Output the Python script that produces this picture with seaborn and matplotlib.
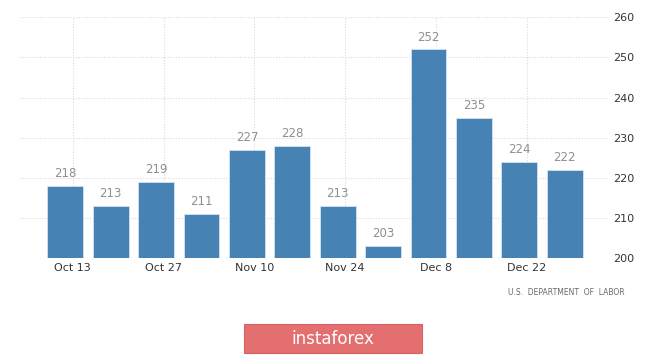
import matplotlib
matplotlib.use("Agg")
import matplotlib.pyplot as plt
import seaborn as sns
import pandas as pd
from matplotlib.patches import FancyBboxPatch

weeks = ["Oct 12", "Oct 19", "Oct 26", "Nov 2", "Nov 9", "Nov 16",
         "Nov 23", "Nov 30", "Dec 7", "Dec 14", "Dec 21", "Dec 28"]
claims = [218, 213, 219, 211, 227, 228, 213, 203, 252, 235, 224, 222]
tick_labels = ["Oct 13", "Oct 27", "Nov 10", "Nov 24", "Dec 8", "Dec 22"]
y_ticks = [200, 210, 220, 230, 240, 250, 260]
source = "U.S.  DEPARTMENT  OF  LABOR"
brand = "instaforex"

sns.set_theme(style="white")
plt.rcParams['font.family'] = ['DejaVu Sans']

df = pd.DataFrame({"week": weeks, "claims": claims})

fig = plt.figure(figsize=(6.65, 3.55), dpi=100)
ax = fig.add_axes([0.030, 0.274, 0.886, 0.677])

sns.barplot(data=df, x="week", y="claims", color="#4682b4", saturation=1,
            width=0.79, ax=ax, edgecolor="#d6e2ee", linewidth=0.6, zorder=3)

ax.set_ylim(200, 260)
ax.set_xlim(-1.0, 11.98)
ax.set_xlabel("")
ax.set_ylabel("")

# value labels
for cont in ax.containers:
    ax.bar_label(cont, labels=[str(v) for v in claims], padding=4,
                 fontsize=8.5, color="#8f8f8f")

# x ticks (one every two weeks, offset slightly from bar centre)
xt = [2 * i + 0.165 for i in range(len(tick_labels))]
ax.set_xticks(xt)
ax.set_xticklabels(tick_labels, fontsize=8, color="#333333")

ax.yaxis.tick_right()
ax.set_yticks(y_ticks)
ax.set_yticklabels([str(v) for v in y_ticks], fontsize=8, color="#333333")
ax.tick_params(axis="both", length=0, pad=4)
ax.tick_params(axis="y", pad=3)

ax.grid(True, axis="both", color="#d9d9d9", linestyle=(0, (1, 1.5)),
        linewidth=0.8, zorder=0)
ax.set_axisbelow(True)
for s in ax.spines.values():
    s.set_visible(False)

fig.text(0.94, 0.175, source, fontsize=5.5, color="#6a6a6a",
         ha="right", va="center")

# brand banner
banner = FancyBboxPatch((244 / 665, 1 - 353 / 355), 178 / 665, 29 / 355,
                        boxstyle="square,pad=0", transform=fig.transFigure,
                        facecolor="#e36f70", edgecolor="#d86060",
                        linewidth=0.8, zorder=5)
fig.patches.append(banner)
fig.text(333 / 665, 1 - 339 / 355, brand, fontsize=12, color="white",
         ha="center", va="center", zorder=6)

fig.savefig("out.png", dpi=100)
